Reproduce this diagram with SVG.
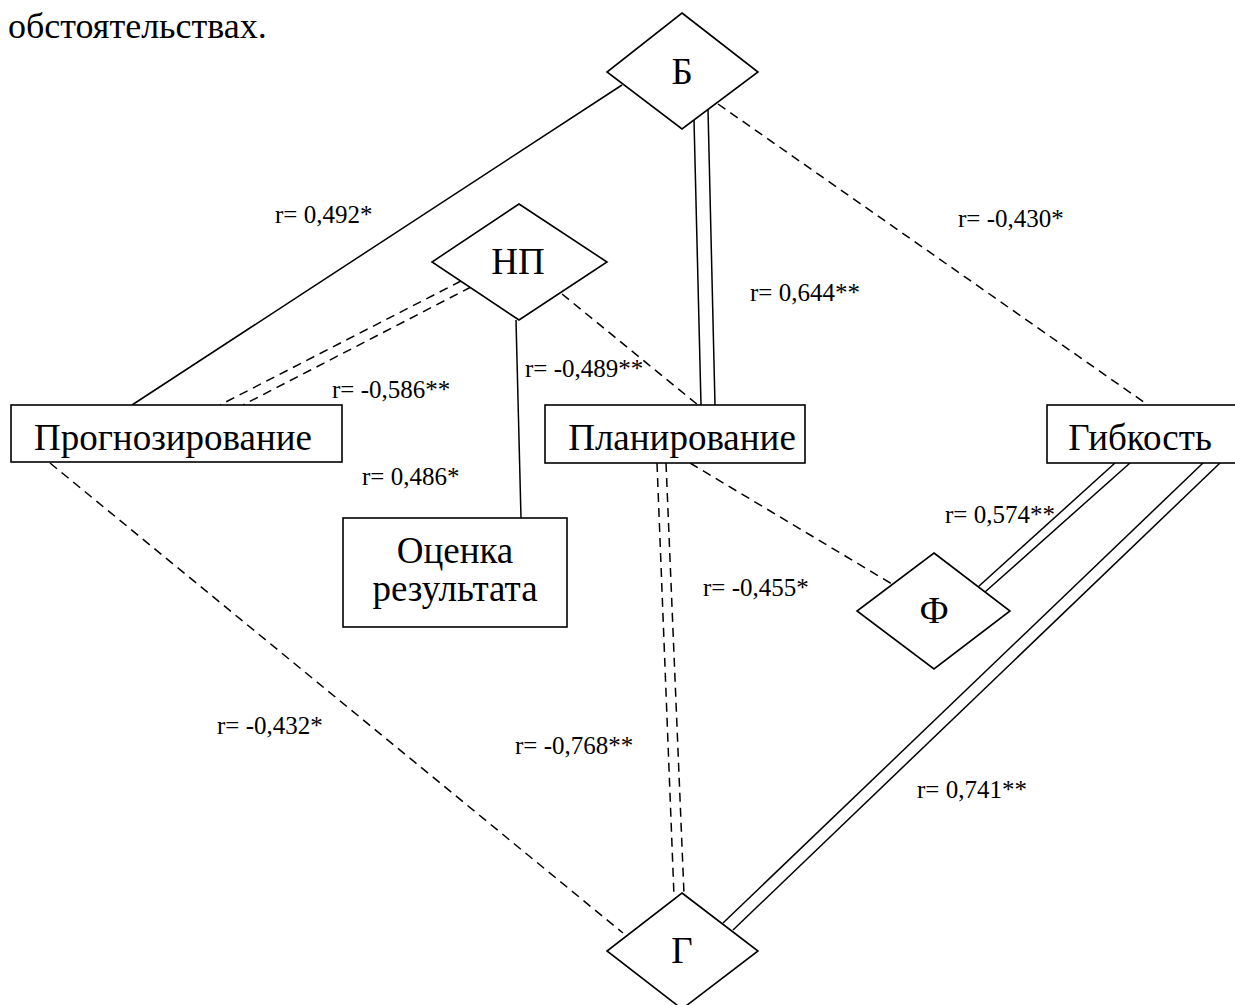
<svg xmlns="http://www.w3.org/2000/svg" width="1235" height="1005" viewBox="0 0 1235 1005">
<style>
.n{fill:#fff;stroke:#000;stroke-width:1.6}
.s{stroke:#000;stroke-width:1.5;fill:none}
.d{stroke:#000;stroke-width:1.5;fill:none;stroke-dasharray:9,6}
.t{font-family:"Liberation Serif","Times New Roman",serif;fill:#000}
.nt{font-size:37px;text-anchor:middle}
.lb{font-size:25px}
</style>
<rect width="1235" height="1005" fill="#fff"/>
<text class="t" x="8" y="38" font-size="36">обстоятельствах.</text>
<g id="connectors">
<line class="s" x1="622" y1="85" x2="132" y2="405"/>
<line class="d" x1="461" y1="281" x2="220" y2="405"/>
<line class="d" x1="471" y1="287" x2="243" y2="405"/>
<line class="s" x1="516" y1="320" x2="521" y2="518"/>
<line class="d" x1="562" y1="294" x2="698" y2="405"/>
<line class="s" x1="694" y1="120" x2="701" y2="405"/>
<line class="s" x1="708" y1="109" x2="715" y2="405"/>
<line class="d" x1="718" y1="104" x2="1148" y2="405"/>
<line class="d" x1="657" y1="463" x2="674" y2="896"/>
<line class="d" x1="666" y1="463" x2="684" y2="894"/>
<line class="d" x1="690" y1="463" x2="892" y2="584"/>
<line class="s" x1="1115" y1="463" x2="978" y2="587"/>
<line class="s" x1="1130" y1="463" x2="985" y2="592"/>
<line class="s" x1="1203" y1="463" x2="723" y2="923"/>
<line class="s" x1="1220" y1="463" x2="733" y2="930"/>
<line class="d" x1="50" y1="463" x2="623" y2="933"/>
</g>
<g id="node-B"><polygon class="n" points="682,13 758,72 682,129 607,72"/><text class="t nt" x="682" y="84">Б</text></g>
<g id="node-NP"><polygon class="n" points="519,204 607,262 519,320 432,262"/><text class="t nt" x="518" y="274">НП</text></g>
<g id="node-prog"><rect class="n" x="11" y="405" width="331" height="57"/><text class="t nt" x="173" y="450">Прогнозирование</text></g>
<g id="node-plan"><rect class="n" x="545" y="405" width="260" height="58"/><text class="t nt" x="682" y="450">Планирование</text></g>
<g id="node-gib"><rect class="n" x="1047" y="405" width="190" height="58"/><text class="t nt" x="1140" y="450">Гибкость</text></g>
<g id="node-ocenka"><rect class="n" x="343" y="518" width="224" height="109"/><text class="t nt" x="455" y="563">Оценка</text><text class="t nt" x="455" y="601">результата</text></g>
<g id="node-F"><polygon class="n" points="934,553 1010,611 934,669 857,611"/><text class="t nt" x="934" y="623">Ф</text></g>
<g id="node-G"><polygon class="n" points="682,893 758,951 682,1009 607,951"/><text class="t nt" x="682" y="963">Г</text></g>
<g id="labels">
<text class="t lb" x="275" y="223">r= 0,492*</text>
<text class="t lb" x="958" y="227">r= -0,430*</text>
<text class="t lb" x="750" y="301">r= 0,644**</text>
<text class="t lb" x="525" y="377">r= -0,489**</text>
<text class="t lb" x="332" y="398">r= -0,586**</text>
<text class="t lb" x="362" y="485">r= 0,486*</text>
<text class="t lb" x="945" y="523">r= 0,574**</text>
<text class="t lb" x="703" y="596">r= -0,455*</text>
<text class="t lb" x="217" y="734">r= -0,432*</text>
<text class="t lb" x="515" y="754">r= -0,768**</text>
<text class="t lb" x="917" y="798">r= 0,741**</text>
</g>
</svg>
